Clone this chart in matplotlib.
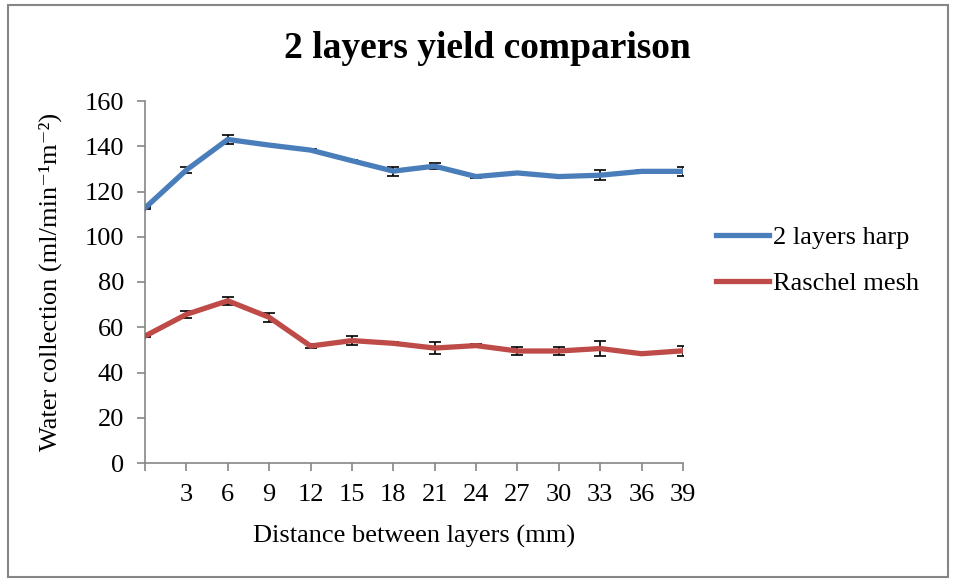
import numpy as np
import matplotlib
matplotlib.use('Agg')
import matplotlib.pyplot as plt
from matplotlib.patches import Rectangle

plt.rcParams['font.family'] = ['Liberation Serif', 'DejaVu Serif']

distance = [0, 3, 6, 9, 12, 15, 18, 21, 24, 27, 30, 33, 36, 39]
tick_labels = ['', '3', '6', '9', '12', '15', '18', '21', '24', '27', '30', '33', '36', '39']

harp = [112.7, 129.5, 143.0, 140.5, 138.3, 133.6, 129.0, 131.2, 126.6, 128.2, 126.6, 127.2, 128.9, 128.9]
harp_err = [0.5, 1.5, 1.8, 0.5, 0.5, 0.3, 2.0, 1.4, 0.8, 0.5, 0.3, 2.2, 0.8, 2.0]

raschel = [56.1, 65.7, 71.7, 64.4, 51.7, 54.1, 52.9, 50.8, 51.9, 49.5, 49.5, 50.6, 48.3, 49.6]
raschel_err = [0.5, 1.7, 1.8, 2.1, 0.7, 2.0, 0.5, 2.8, 0.7, 1.6, 1.6, 3.2, 0.3, 2.2]

blue = '#4A7EBB'
red = '#BE4B48'
grey = '#868686'

fig = plt.figure(figsize=(9.57, 5.8), dpi=100)
ax = fig.add_axes([145 / 957, 1 - 463 / 580, (683 - 145) / 957, (463 - 101) / 580])

# outer frame of the chart area
fig.patches.append(Rectangle((8 / 957, 3 / 580), 940 / 957, 572 / 580, transform=fig.transFigure,
                             fill=False, edgecolor=grey, linewidth=1.5))

ax.errorbar(distance, harp, yerr=harp_err, color=blue, lw=3.8, ecolor='black',
            elinewidth=1.2, capsize=4, capthick=1.2, label='2 layers harp', zorder=3)
ax.errorbar(distance, raschel, yerr=raschel_err, color=red, lw=3.8, ecolor='black',
            elinewidth=1.2, capsize=4, capthick=1.2, label='Raschel mesh', zorder=3)

ax.set_xlim(0, 39)
ax.set_ylim(0, 160)
ax.set_xticks(distance)
ax.set_xticklabels(tick_labels)
ax.set_yticks(np.arange(0, 161, 20))
ax.tick_params(axis='both', labelsize=19, color=grey, length=6, width=1.2)
ax.tick_params(axis='x', pad=9)
ax.tick_params(axis='y', pad=9)
for side in ['top', 'right']:
    ax.spines[side].set_visible(False)
for side in ['left', 'bottom']:
    ax.spines[side].set_color(grey)
    ax.spines[side].set_linewidth(1.2)

ax.set_xlabel('Distance between layers (mm)', fontsize=19, labelpad=14)
ax.set_ylabel('Water collection (ml/min\u207b\u00b9m\u207b\u00b2)', fontsize=19, labelpad=16)
fig.text(487 / 957, 1 - 48 / 580, '2 layers yield comparison', ha='center', va='center',
         fontsize=27, fontweight='bold')

handles, labels = ax.get_legend_handles_labels()
handles = [h[0] for h in handles]
ax.legend(handles, labels, loc='center left', bbox_to_anchor=(1.018, 0.56), frameon=False,
          fontsize=19, handlelength=2.0, handletextpad=0.15, labelspacing=0.85)

fig.savefig('out.png', dpi=100)
